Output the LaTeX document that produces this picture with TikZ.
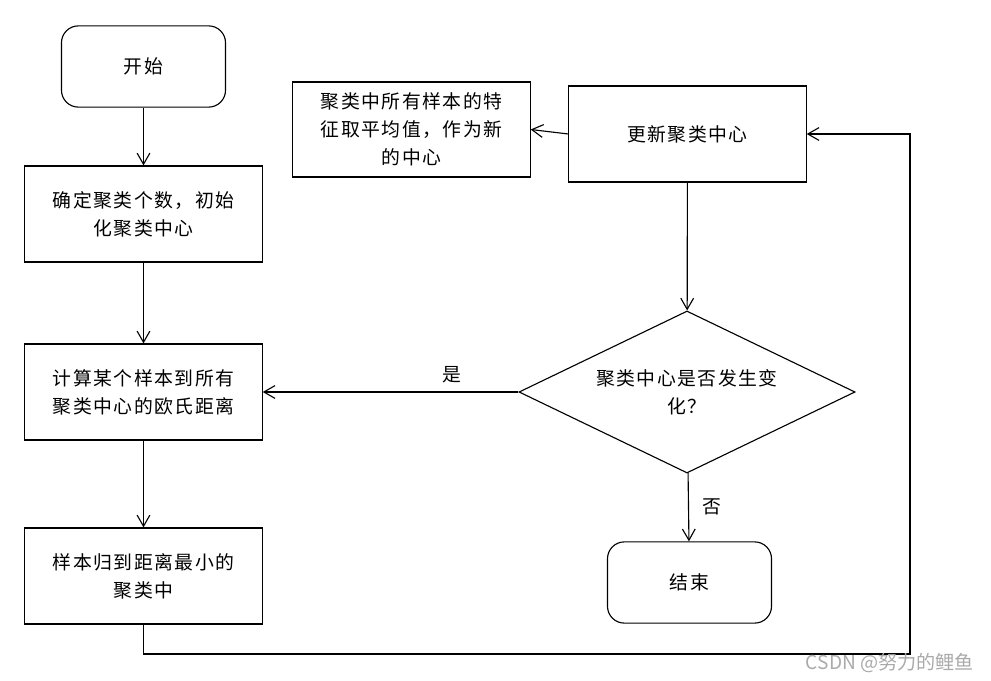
\documentclass[tikz,border=0pt]{standalone}
\usepackage{fontspec}
\usetikzlibrary{arrows.meta,shapes.geometric}
\newfontfamily\cjk[LetterSpace=8]{Noto Sans CJK SC}
\newfontfamily\wmfont{Noto Sans CJK SC}
\definecolor{mark}{HTML}{AAAAAA}

\begin{document}
\begin{tikzpicture}[x=0.025cm,y=-0.025cm,
  font=\cjk\fontsize{13.4}{20}\selectfont,
  term/.style={draw,rounded corners=12pt,minimum width=4.1cm,minimum height=2.03cm,
               line width=0.8pt},
  proc/.style={draw,minimum width=5.93cm,minimum height=2.4cm,align=center,
               line width=0.8pt},
  decide/.style={draw,diamond,aspect=2,inner sep=0pt,minimum width=8.4cm,
                 minimum height=4.05cm,align=center,line width=0.8pt},
  arr/.style={-{Straight Barb[length=2.8mm,width=3.2mm]},line width=0.8pt}
]
\useasboundingbox (0,0) rectangle (991,681);
\node[term] (start) at (143.5,66.5) {开始};
\node[proc] (init) at (143.5,214) {确定聚类个数，初始\\化聚类中心};
\node[proc] (dist) at (143.5,392) {计算某个样本到所有\\聚类中心的欧氏距离};
\node[proc] (assign) at (143.5,576) {样本归到距离最小的\\聚类中};
\node[proc] (update) at (687.5,134) {更新聚类中心};
\node[proc,minimum height=2.375cm] (mean) at (411.5,129.5) {聚类中所有样本的特\\征取平均值，作为新\\的中心};
\node[decide] (check) at (687,392) {聚类中心是否发生变\\化？};
\node[term] (finish) at (689.5,582.5) {结束};
\coordinate (loop) at (910,654);
\draw[arr] (start) -- (init);
\draw[arr] (init) -- (dist);
\draw[arr] (dist) -- (assign);
\draw[arr] (assign.south) |- (loop) |- (update.east);
\draw[arr] (update) -- (check);
\draw[arr] (update.west) -- (mean.east);
\draw[arr] (check.west) -- node[pos=0.26,above=3pt] {是} (dist.east);
\draw[arr] (check) -- node[right=6pt] {否} (finish);
\node[font=\wmfont\fontsize{13.6}{15}\selectfont,text=mark] (wm) at (890,663) {CSDN @努力的鲤鱼};
\end{tikzpicture}
\end{document}
